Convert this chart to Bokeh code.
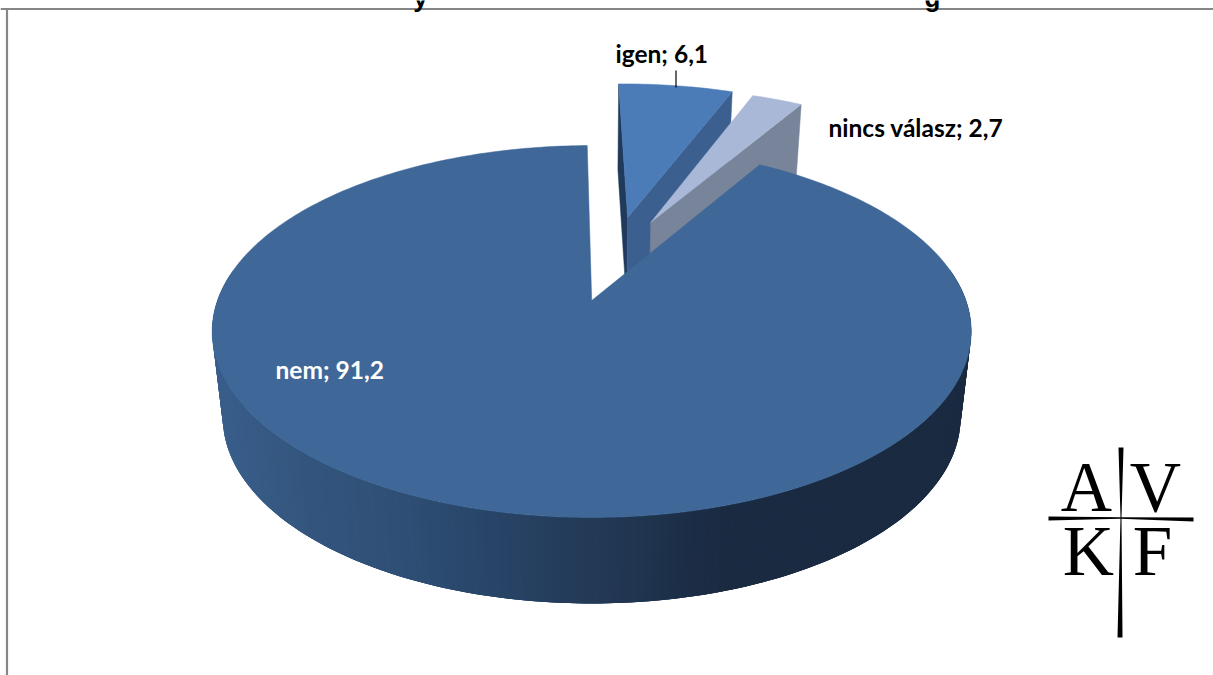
import numpy as np
from bokeh.plotting import figure
from bokeh.models import ColumnDataSource
from bokeh.core.properties import value
from bokeh.embed import file_html
from bokeh.resources import INLINE

# ---- data ----
categories = ["igen", "nincs válasz", "nem"]
shares = [6.1, 2.7, 91.2]
value_labels = ["6,1", "2,7", "91,2"]
title_fragments = ["y", "g"]   # only these descenders of the cropped title are visible
logo_letters = ["A", "V", "K", "F"]

# ---- 3D pie projection (style / layout) ----
W, H = 1213, 675
CX, CY = 591.2, 300.0
RX, RY, PERSP = 374.2, 180.8, 1 / 6
DEPTH, LOWER_SCALE = 86.0, 0.972
START_DEG = -0.8
EXPLODE = {"igen": (0.104, 0.497), "nincs válasz": (0.170, 0.465), "nem": (0.0, 0.0)}
TOP = {"igen": "#4b7cb8", "nincs válasz": "#a9b8d7", "nem": "#3f6899"}
CUT_R = {"igen": "#3b6090", "nincs válasz": "#78849a"}
CUT_L = {"igen": "#203a5c"}
GRAD_X = [212, 300, 400, 500, 600, 720, 971]
GRAD_R = [0x3a, 0x34, 0x2f, 0x28, 0x23, 0x1a, 0x1a]
GRAD_G = [0x5f, 0x56, 0x4f, 0x44, 0x39, 0x2b, 0x2a]
GRAD_B = [0x8c, 0x7e, 0x76, 0x66, 0x55, 0x42, 0x40]


def project(x, u, lower=False):
    w = 1 + PERSP * np.asarray(u)
    X = RX * np.asarray(x) / w
    Y = CY - RY * np.asarray(u) / w
    if lower:
        return CX + X * LOWER_SCALE, Y + DEPTH
    return CX + X, Y


def rim(theta_deg, off):
    t = np.radians(theta_deg)
    return off[0] + np.sin(t), off[1] + np.cos(t)


p = figure(width=W, height=H, x_range=(0, W), y_range=(H, 0), toolbar_location=None,
           output_backend="svg", min_border=0, outline_line_color=None,
           background_fill_color="white", border_fill_color="white",
           margin=(0, 0, 0, 0))
p.axis.visible = False
p.grid.visible = False

# chart frame
p.segment(x0=[0, 6.5], y0=[8.5, 8.5], x1=[W, 6.5], y1=[8.5, H], line_color="#868686", line_width=2.2)

# slice spans from the values
ang = START_DEG
spans = {}
for c, s in zip(categories, shares):
    spans[c] = (ang, ang + s * 3.6)
    ang += s * 3.6

# exploded slices, back to front
for c in categories[:2]:
    a0, a1 = spans[c]
    off = EXPLODE[c]
    ax, ay = project(off[0], off[1])
    bx, by = project(off[0], off[1], lower=True)
    if c in CUT_L:
        rx, ry = rim(a0, off)
        tx, ty = project(rx, ry)
        lx, ly = project(rx, ry, lower=True)
        p.patch([tx, ax, bx, lx], [ty, ay, by, ly], fill_color=CUT_L[c], line_color=CUT_L[c], line_width=0.5)
    rx, ry = rim(a1, off)
    tx, ty = project(rx, ry)
    lx, ly = project(rx, ry, lower=True)
    p.patch([tx, ax, bx, lx], [ty, ay, by, ly], fill_color=CUT_R[c], line_color=CUT_R[c], line_width=0.5)
    th = np.linspace(a0, a1, 24)
    rx, ry = rim(th, off)
    tx, ty = project(rx, ry)
    p.patch(np.r_[ax, tx], np.r_[ay, ty], fill_color=TOP[c], line_color=TOP[c], line_width=0.5)

# main slice: side wall as overlapping strips carrying the gradient, then top face
a0, a1 = spans["nem"]
off = EXPLODE["nem"]
th = np.linspace(280, 80, 201)
rx, ry = rim(th, off)
tx, ty = project(rx, ry)
lx, ly = project(rx, ry, lower=True)
xs, ys, cols = [], [], []
for i in range(len(th) - 1):
    j = min(i + 3, len(th) - 1)
    xs.append([tx[i], tx[i + 1], tx[j], lx[j], lx[i + 1], lx[i]])
    ys.append([ty[i], ty[i + 1], ty[j], ly[j], ly[i + 1], ly[i]])
    mid = (tx[i] + tx[i + 1]) / 2
    r = int(np.interp(mid, GRAD_X, GRAD_R))
    g = int(np.interp(mid, GRAD_X, GRAD_G))
    b = int(np.interp(mid, GRAD_X, GRAD_B))
    cols.append(f"#{r:02x}{g:02x}{b:02x}")
p.patches("xs", "ys", fill_color="cols", line_color=None,
          source=ColumnDataSource(dict(xs=xs, ys=ys, cols=cols)))

th = np.linspace(a0, a1, 360)
rx, ry = rim(th, off)
tx, ty = project(rx, ry)
ax, ay = project(off[0], off[1])
p.patch(np.r_[ax, tx], np.r_[ay, ty], fill_color=TOP["nem"], line_color=TOP["nem"], line_width=0.5)

# data labels
text_style = dict(text_font=value("Lato"), text_font_style="bold", text_font_size="24.5px",
                  text_align="left", text_baseline="middle")
label_pos = {"igen": (615, 53, "black"), "nincs válasz": (828, 127, "black"), "nem": (275, 369, "white")}
for c, v in zip(categories, value_labels):
    x, y, col = label_pos[c]
    p.text([x], [y], text=[f"{c}; {v}"], text_color=col, **text_style)
p.segment([675.5], [70], [675.5], [87], line_color="black", line_width=1.2)

# fragments of the cropped title
p.text([420, 932], [-3, -3], text=title_fragments, text_font=value("Liberation Sans"),
       text_font_style="bold", text_font_size="26px", text_align="center",
       text_baseline="alphabetic", text_color="black")

# logo
logo_x = [1086, 1155, 1088, 1152]
logo_y = [486, 486, 550, 550]
p.text(logo_x, logo_y, text=logo_letters, text_font=value("Liberation Serif"), text_font_size="71px",
       text_align="center", text_baseline="alphabetic", text_color="black")
p.patch([1118, 1123, 1121, 1122, 1117, 1120], [447, 447, 517, 637, 637, 517], fill_color="black", line_color=None)
p.patch([1048, 1120, 1193, 1193, 1120, 1048], [516, 516.8, 517, 521, 518.3, 520], fill_color="black", line_color=None)

open("out.html", "w").write(file_html(p, INLINE))
